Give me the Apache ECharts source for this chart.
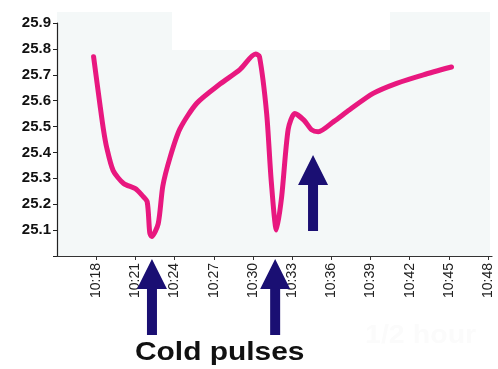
<!DOCTYPE html>
<html>
<head>
<meta charset="utf-8">
<script src="https://cdn.jsdelivr.net/npm/echarts@6/dist/echarts.min.js"></script>
<style>
html,body{margin:0;padding:0;background:#ffffff;}
#chart{width:498px;height:369px;}
</style>
</head>
<body>
<div id="chart"></div>
<script>
// ---- data ----
var times = ['10:17:48','10:18:18','10:18:33','10:18:48','10:19:18','10:20:06','10:21:00','10:21:30','10:21:54','10:22:06','10:22:15','10:22:45','10:23:06','10:23:39','10:24:24','10:25:42','10:27:30','10:29:00','10:30:12','10:30:30','10:31:03','10:31:24','10:31:48','10:32:12','10:32:42','10:33:12','10:33:54','10:34:30','10:35:00','10:36:12','10:37:24','10:39:12','10:41:00','10:43:03','10:45:12'];
var temps = [25.77,25.58,25.49,25.42,25.33,25.28,25.26,25.235,25.21,25.09,25.075,25.125,25.27,25.38,25.49,25.59,25.665,25.72,25.78,25.77,25.55,25.29,25.10,25.23,25.49,25.55,25.525,25.487,25.48,25.52,25.565,25.628,25.667,25.70,25.73];
var tickLabels = ['10:18','10:21','10:24','10:27','10:30','10:33','10:36','10:39','10:42','10:45','10:48'];
var yTicks = [25.1,25.2,25.3,25.4,25.5,25.6,25.7,25.8,25.9];
var annotation = 'Cold pulses';
var ghostText = '1/2 hour';

function toMin(s){var p=s.split(':');return (+p[0])*60+(+p[1])+(p[2]?(+p[2])/60:0);}
var seriesData = times.map(function(t,i){return [toMin(t),temps[i]];});
var tickVals = tickLabels.map(toMin);

var chart = echarts.init(document.getElementById('chart'));
var option = {
  animation:false,
  backgroundColor:'#ffffff',
  grid:{left:57,top:23,width:435,height:233,containLabel:false},
  xAxis:{
    type:'value',min:615,max:648.3,interval:3,
    axisLine:{show:true,lineStyle:{color:'#333',width:1.2}},
    axisTick:{show:true,length:4,lineStyle:{color:'#333'},customValues:tickVals},
    splitLine:{show:false},
    axisLabel:{
      rotate:90,margin:7,fontSize:14,color:'#222',fontFamily:'"Liberation Sans", Arial, sans-serif',
      customValues:tickVals,
      formatter:function(v){
        var i=tickVals.findIndex(function(t){return Math.abs(t-v)<1e-6;});
        return i>=0?tickLabels[i]:'';
      }
    }
  },
  yAxis:{
    type:'value',min:25.0,max:25.9,interval:0.1,
    axisLine:{show:true,lineStyle:{color:'#222',width:1.2}},
    axisTick:{show:true,length:4,inside:false,lineStyle:{color:'#222'}},
    splitLine:{show:false},
    axisLabel:{
      margin:6,fontSize:15,fontWeight:'bold',color:'#111',fontFamily:'"Liberation Sans", Arial, sans-serif',
      formatter:function(v){
        for(var i=0;i<yTicks.length;i++){if(Math.abs(yTicks[i]-v)<1e-6)return yTicks[i].toFixed(1);}
        return '';
      }
    }
  },
  series:[{
    type:'line',data:seriesData,showSymbol:false,smooth:0.25,
    lineStyle:{color:'#e8187f',width:5,join:'round',cap:'round'},
    z:5
  }]
};
chart.setOption(option);

function arrowPts(cx,tipY){
  var hw=15,hh=30,sw=5,len=76;
  return [[cx,tipY],[cx+hw,tipY+hh],[cx+sw,tipY+hh],[cx+sw,tipY+len],[cx-sw,tipY+len],[cx-sw,tipY+hh],[cx-hw,tipY+hh]];
}
var axisY = chart.convertToPixel({yAxisIndex:0},25.0);
var a1x = chart.convertToPixel({xAxisIndex:0},622.27);
var a2x = chart.convertToPixel({xAxisIndex:0},631.7);
var a3x = chart.convertToPixel({xAxisIndex:0},634.6);
var a3y = chart.convertToPixel({yAxisIndex:0},25.39);
var arrowColor = '#1a0f73';

chart.setOption({
  graphic:[
    {type:'rect',shape:{x:57,y:12,width:433,height:244},style:{fill:'#f4f8f8'},z:-10,silent:true},
    {type:'rect',shape:{x:172,y:0,width:218,height:50},style:{fill:'#ffffff'},z:-9,silent:true},
    {type:'polygon',shape:{points:arrowPts(a1x,axisY+3)},style:{fill:arrowColor},z:20},
    {type:'polygon',shape:{points:arrowPts(a2x,axisY+3)},style:{fill:arrowColor},z:20},
    {type:'polygon',shape:{points:arrowPts(a3x,a3y)},style:{fill:arrowColor},z:20},
    {type:'text',x:135,y:353,scaleX:1.15,originX:0,originY:0,
     style:{text:annotation,font:'bold 26px "Liberation Sans", Arial, sans-serif',fill:'#111',textVerticalAlign:'middle',textAlign:'left'},z:20},
    {type:'text',x:365,y:336,scaleX:1.1,
     style:{text:ghostText,font:'bold 26px "Liberation Sans", Arial, sans-serif',fill:'#fbfbfb',textVerticalAlign:'middle',textAlign:'left'},z:1}
  ]
});
</script>
</body>
</html>
